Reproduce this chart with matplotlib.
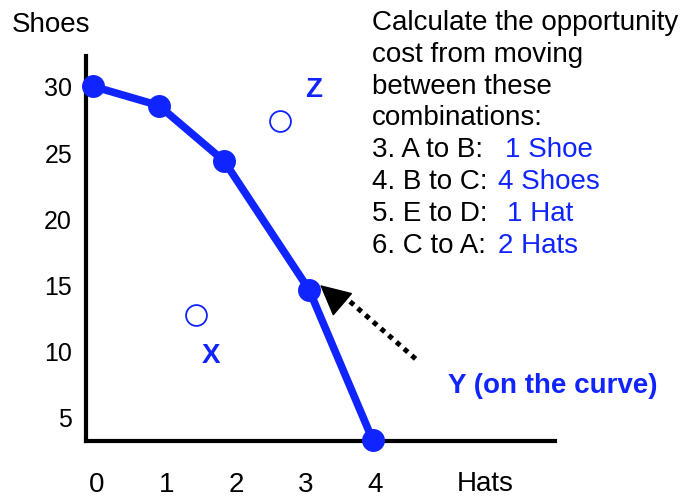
import matplotlib
matplotlib.use('Agg')
import matplotlib.pyplot as plt

plt.rcParams['font.family'] = ['Liberation Sans', 'DejaVu Sans']

# production possibilities (hats, shoes)
hats = [-0.06, 0.89, 1.83, 3.05, 3.97]
shoes = [30.05, 28.6, 24.4, 14.7, 3.3]

# points off the curve
inside_pt = (1.42, 12.8)   # X
outside_pt = (2.63, 27.4)  # Z

x_ticks = [0, 1, 2, 3, 4]
y_ticks = [5, 10, 15, 20, 25, 30]

question = ['Calculate the opportunity', 'cost from moving',
            'between these', 'combinations:']
steps = ['3. A to B:', '4. B to C:', '5. E to D:', '6. C to A:']
answers = ['1 Shoe', '4 Shoes', '1 Hat', '2 Hats']

BLUE = '#1024ff'
W, H = 697, 497

def fx(px):
    return px / W

def fy(py):
    return 1 - py / H

fig = plt.figure(figsize=(W / 100, H / 100), dpi=100)
ax = fig.add_axes([fx(86), fy(441), fx(555) - fx(86), fy(56) - fy(441)])

ax.set_xlim(-0.158, 6.59)
ax.set_ylim(3.26, 32.34)

ax.plot(hats, shoes, color=BLUE, lw=5.5, marker='o', ms=15.5,
        solid_joinstyle='round', clip_on=False, zorder=3)
for pt in [inside_pt, outside_pt]:
    ax.plot(*pt, marker='o', ms=15, mfc='white', mec=BLUE, mew=1.3, ls='none')

# dotted arrow pointing at the curve
ax.plot([3.53, 4.62], [14.3, 9.3], color='black', lw=3.6,
        ls=(0, (1, 1.05)), dash_capstyle='butt')
ax.annotate('', xy=(3.21, 15.04), xytext=(3.53, 13.6),
            arrowprops=dict(arrowstyle='-|>,head_length=1.0,head_width=0.5',
                            mutation_scale=20, color='black', lw=1,
                            shrinkA=0, shrinkB=0))

for s in ['top', 'right']:
    ax.spines[s].set_visible(False)
for s in ['left', 'bottom']:
    ax.spines[s].set_linewidth(3)
    ax.spines[s].set_color('black')

ax.set_xticks(x_ticks)
ax.set_yticks(y_ticks)
ax.tick_params(axis='both', length=0)
ax.tick_params(axis='y', labelsize=18, pad=10)
ax.tick_params(axis='x', labelsize=20, pad=22)

ax.text(fx(305), fy(97), 'Z', transform=fig.transFigure, fontsize=20,
        fontweight='bold', color=BLUE, va='baseline')
ax.text(fx(202), fy(363), 'X', transform=fig.transFigure, fontsize=20,
        fontweight='bold', color=BLUE, va='baseline')
ax.text(fx(448), fy(393), 'Y (on the curve)', transform=fig.transFigure,
        fontsize=20, fontweight='bold', color=BLUE, va='baseline')

fig.text(fx(12), fy(32), 'Shoes', fontsize=20, va='baseline')
fig.text(fx(457), fy(491), 'Hats', fontsize=20, va='baseline')

line_gap = 31.8
for i, line in enumerate(question):
    fig.text(fx(372), fy(30 + i * line_gap), line, fontsize=20, va='baseline')
answer_x = [505, 498, 507, 498]
for i, (st, ans) in enumerate(zip(steps, answers)):
    y = 30 + (i + 4) * line_gap
    fig.text(fx(372), fy(y), st, fontsize=20, va='baseline')
    fig.text(fx(answer_x[i]), fy(y), ans, fontsize=20, va='baseline', color=BLUE)

fig.savefig('out.png', dpi=100)
